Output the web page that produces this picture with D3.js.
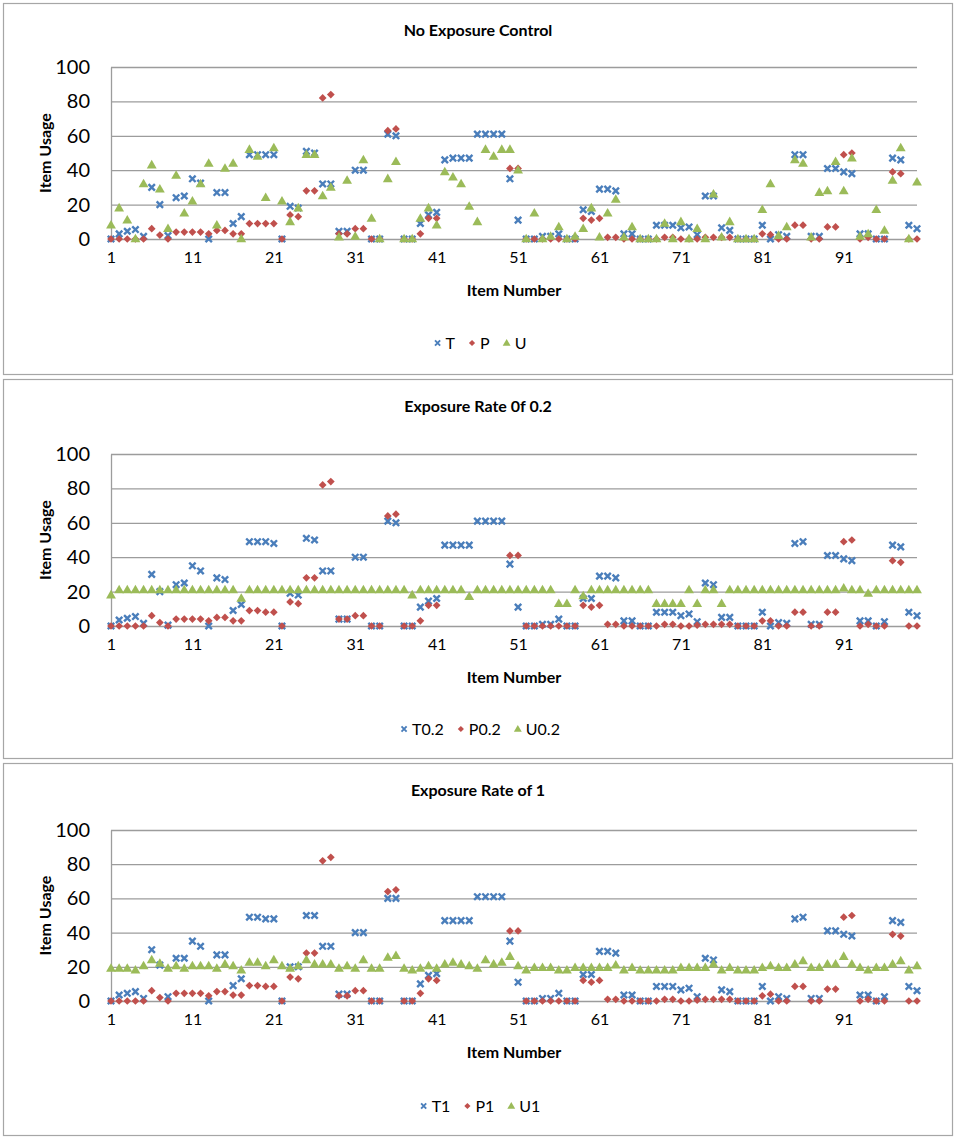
<!DOCTYPE html>
<html>
<head>
<meta charset="utf-8">
<script src="https://cdn.jsdelivr.net/npm/d3@7"></script>
<style>
  body { margin: 0; background: #fff; }
  svg { display: block; font-family: Lato, "Open Sans", sans-serif; }
</style>
</head>
<body>
<svg id="chart" width="957" height="1139"></svg>
<script>
// item numbers on the x axis
const items = d3.range(1, 101);
const xTicks = [1, 11, 21, 31, 41, 51, 61, 71, 81, 91];
const yTicks = [0, 20, 40, 60, 80, 100];

const titles = ['No Exposure Control', 'Exposure Rate 0f 0.2', 'Exposure Rate of 1'];
const seriesNames = [
  ['T', 'P', 'U'],
  ['T0.2', 'P0.2', 'U0.2'],
  ['T1', 'P1', 'U1'],
];

// --- No exposure control
const tNone = [0, 3, 4.5, 5.5, 1.5, 30, 20, 2, 24, 25,
  35, 32.5, 0, 27, 27, 9, 13, 49, 49, 49,
  49, 0, 19, 18, 51, 50, 32, 32, 4.5, 4.5,
  40, 40, 0, 0, 61, 60, 0, 0, 9, 14,
  15.5, 46, 47, 47, 47, 61, 61, 61, 61, 35,
  11, 0, 0, 1.5, 1.5, 3, 0, 0, 17, 16,
  29, 29, 28, 3, 3, 0, 0, 8, 8, 8,
  6.5, 7, 2.5, 25, 25, 6.5, 5, 0, 0, 0,
  8, 0, 2.5, 1.5, 49, 49, 1.5, 1.5, 41, 41,
  39, 38, 3, 3, 0, 0, 47, 46, 8, 6];
const pNone = [0, 0, 0, 0, 0, 6, 2.3, 0, 4, 4,
  4, 4, 3, 5, 5, 3, 3, 9, 9, 9,
  9, 0, 14, 13, 28, 28, 82, 84, 3, 3,
  6, 6, 0, 0, 63, 64, 0, 0, 3, 12,
  12, null, null, null, null, null, null, null, null, 41,
  41, 0, 0, 0, 0, 0, 0, 0, 12, 11,
  12, 1, 1, 0, 0, 0, 0, 0, 1, 1,
  0, 0, 0, 1, 1, 1, 1, 0, 0, 0,
  3, 2.5, 0, 0, 8, 8, 0, 0, 7, 7,
  49, 50, 0, 1, 0, 0, 39, 38, 0, 0];
const uNone = [8, 18, 11, 0, 32, 43, 29, 6, 37, 15,
  22, 32, 44, 8, 41, 44, 0, 52, 48, 24,
  53, 22, 10, 18, 49, 49, 25, 30, 1, 34,
  1.5, 46, 12, 0, 35, 45, 0, 0, 12, 18,
  8, 39, 36, 32, 19, 10, 52, 48, 52, 52,
  40, 0, 15, 0, 1.5, 7, 0, 1.5, 6, 18,
  1, 15, 23, 1, 7, 0, 0, 0, 9, 0,
  10, 0, 6, 0, 26, 1, 10, 0, 0, 0,
  17, 32, 2, 7, 46, 44, 1, 27, 28, 45,
  28, 47, 1.5, 3, 17, 5, 34, 53, 0, 33];

// --- Exposure rate 0.2
const tRate02 = [0, 3.5, 4.5, 5.5, 1.5, 30, 20, 0.5, 24, 25,
  35, 32, 0, 28, 27, 9, 12.5, 49, 49, 49,
  48, 0, 19, 18, 51, 50, 32, 32, 4, 4,
  40, 40, 0, 0, 61, 60, 0, 0, 11, 14.5,
  16, 47, 47, 47, 47, 61, 61, 61, 61, 36,
  11, 0, 0, 1, 1, 4, 0, 0, 16, 16,
  29, 29, 28, 3, 3, 0, 0, 8, 8, 8,
  6, 7, 2.5, 25, 24, 5, 5, 0, 0, 0,
  8, 0, 2, 1.5, 48, 49, 1, 1, 41, 41,
  39, 38, 3, 3, 0, 2.5, 47, 46, 8, 6];
const pRate02 = [0, 0, 0, 0, 0, 6, 2, 0, 4, 4,
  4, 4, 3, 5, 5, 3, 3, 9, 9, 8,
  8, 0, 14, 13, 28, 28, 82, 84, 4, 4,
  6, 6, 0, 0, 64, 65, 0, 0, 3, 12,
  12, null, null, null, null, null, null, null, null, 41,
  41, 0, 0, 0, 0, 0, 0, 0, 12, 11,
  12, 1, 1, 0, 0, 0, 0, 0, 1, 1,
  0, 0, 0.5, 1, 1, 1, 1, 0, 0, 0,
  3, 3, 0, 0, 8, 8, 0, 0, 8, 8,
  49, 50, 0, 1, 0, 0, 38, 37, 0, 0];
const uRate02 = [18, 21, 21, 21, 21, 21, 21, 21, 21, 21,
  21, 21, 21, 21, 21, 21, 16, 21, 21, 21,
  21, 21, 21, 21, 21, 21, 21, 21, 21, 21,
  21, 21, 21, 21, 21, 21, 21, 18, 21, 21,
  21, 21, 21, 21, 17, 21, 21, 21, 21, 21,
  21, 21, 21, 21, 21, 13, 13, 21, 17.5, 21,
  21, 21, 21, 21, 21, 21, 21, 13, 13, 13,
  13, 21, 13, 21, 21, 13, 21, 21, 21, 21,
  21, 21, 21, 21, 21, 21, 21, 21, 21, 21,
  22, 21, 21, 19, 21, 21, 21, 21, 21, 21];

// --- Exposure rate 1
const tRate1 = [0, 3.5, 4.5, 5.5, 1.5, 30, 21, 2.5, 25, 25,
  35, 32, 0, 27, 27, 9, 13, 49, 49, 48,
  48, 0, 20, 20, 50, 50, 32, 32, 4, 4,
  40, 40, 0, 0, 60, 60, 0, 0, 10, 15,
  16, 47, 47, 47, 47, 61, 61, 61, 61, 35,
  11, 0, 0, 1.5, 1.5, 4.5, 0, 0, 15.5, 15.5,
  29, 29, 28, 3.5, 3.5, 0, 0, 8.5, 8.5, 8.5,
  6.5, 7.5, 2.5, 25, 24, 6.5, 5.5, 0, 0, 0,
  8.5, 0, 2.5, 1.5, 48, 49, 1.5, 1.5, 41, 41,
  39, 38, 3.5, 3.5, 0, 2.5, 47, 46, 8.5, 6];
const pRate1 = [0, 0, 0, 0, 0, 6, 2, 0, 4.5, 4.5,
  4.5, 4.5, 3, 5.5, 5.5, 3.5, 3.5, 9, 9, 8.5,
  8.5, 0, 14, 13, 28, 28, 82, 84, 3, 3,
  6, 6, 0, 0, 64, 65, 0, 0, 4.5, 13,
  12, null, null, null, null, null, null, null, null, 41,
  41, 0, 0, 0, 0, 0, 0, 0, 12, 11,
  12, 1, 1, 0, 0, 0, 0, 0, 1, 1,
  0, 0, 0.5, 1, 1, 1, 1, 0, 0, 0,
  3, 4, 0, 0, 8.5, 8.5, 0, 0, 7, 7,
  49, 50, 0, 1, 0, 0, 39, 38, 0, 0];
const uRate1 = [19, 19, 19, 18, 20.5, 24, 22, 19, 20.5, 19,
  20.5, 20.5, 20.5, 19, 21.5, 20.5, 18, 22.5, 22.5, 20.5,
  24, 20.5, 19, 20.5, 24, 21.5, 21.5, 21.5, 19, 20.5,
  19, 24, 19, 19, 25.5, 26.5, 19, 18, 19, 20.5,
  19, 21.5, 22.5, 21.5, 20.5, 19, 24, 21.5, 22.5, 26,
  20.5, 18, 19.5, 19.5, 19.5, 18, 18, 19.5, 19.5, 19.5,
  19.5, 19.5, 21, 18, 19.5, 18, 18, 18, 18, 18,
  19.5, 19.5, 19.5, 19.5, 21.5, 18, 19.5, 18, 18, 18,
  19.5, 20.5, 19.5, 19.5, 21.5, 23.5, 19.5, 19.5, 21.5, 21.5,
  26, 21.5, 19.5, 18, 19.5, 19.5, 21.5, 23.5, 18, 20.5];

const panelSeries = [
  [tNone, pNone, uNone],
  [tRate02, pRate02, uRate02],
  [tRate1, pRate1, uRate1],
];

// layout of the three stacked chart boxes
const layout = [
  { top: 3, bottom: 374, plotTop: 67, plotBottom: 239, legendY: 343 },
  { top: 379, bottom: 758, plotTop: 454, plotBottom: 626, legendY: 729 },
  { top: 763, bottom: 1135, plotTop: 830, plotBottom: 1001, legendY: 1106 },
];

const colors = ['#4A7EBB', '#C0504D', '#9BBB59'];
const gridColor = '#9c9c9c';
const left = 111;
const right = 917;

const svg = d3.select('#chart');
const x = d3.scaleLinear().domain([1, 100]).range([left, right]);

function drawMarker(sel, kind, color, s = 1) {
  if (kind === 0) {
    const r = 3.2 * s;
    sel.append('path')
      .attr('d', `M${-r},${-r}L${r},${r}M${-r},${r}L${r},${-r}`)
      .attr('stroke', color)
      .attr('stroke-width', 2.4 * s)
      .attr('fill', 'none');
  } else if (kind === 1) {
    sel.append('path')
      .attr('d', d3.symbol(d3.symbolSquare, 30 * s * s)())
      .attr('transform', 'rotate(45)')
      .attr('fill', color);
  } else {
    sel.append('path')
      .attr('d', d3.symbol(d3.symbolTriangle, 42 * s * s)())
      .attr('transform', 'translate(0,0.5)')
      .attr('fill', color);
  }
}

layout.forEach((L, pi) => {
  const g = svg.append('g');
  const y = d3.scaleLinear().domain([0, 100]).range([L.plotBottom, L.plotTop]);

  g.append('rect')
    .attr('x', 3.5).attr('y', L.top + 0.5)
    .attr('width', 949).attr('height', L.bottom - L.top)
    .attr('fill', '#fff')
    .attr('stroke', '#a6a6a6')
    .attr('stroke-width', 1.2);

  g.append('text')
    .attr('x', 478).attr('y', L.top + 27).attr('dy', '0.35em')
    .attr('text-anchor', 'middle')
    .attr('font-size', 16).attr('font-weight', 700)
    .text(titles[pi]);

  const yAxis = g.append('g')
    .attr('transform', `translate(${left},0)`)
    .call(d3.axisLeft(y).tickValues(yTicks).tickSize(-(right - left)).tickSizeOuter(0).tickPadding(21))
    .attr('font-family', null).attr('font-size', 20);
  yAxis.selectAll('.tick line').attr('stroke', gridColor).attr('stroke-width', 1.3);
  yAxis.select('.domain').attr('stroke', gridColor).attr('stroke-width', 1.3);
  yAxis.selectAll('text').attr('fill', '#000');

  const xAxis = g.append('g')
    .attr('transform', `translate(0,${L.plotBottom})`)
    .call(d3.axisBottom(x).tickValues(xTicks).tickSize(0).tickPadding(13))
    .attr('font-family', null).attr('font-size', 16);
  xAxis.select('.domain').remove();
  xAxis.selectAll('text').attr('fill', '#000');

  g.append('text')
    .attr('x', (left + right) / 2).attr('y', L.plotBottom + 51).attr('dy', '0.35em')
    .attr('text-anchor', 'middle')
    .attr('font-size', 16).attr('font-weight', 700)
    .text('Item Number');

  g.append('text')
    .attr('transform', `translate(45,${(L.plotTop + L.plotBottom) / 2}) rotate(-90)`)
    .attr('dy', '0.35em')
    .attr('text-anchor', 'middle')
    .attr('font-size', 16).attr('font-weight', 700)
    .text('Item Usage');

  // series drawn in order T, P, U so U sits on top
  panelSeries[pi].forEach((vals, si) => {
    const pts = items
      .map((it, i) => ({ it, v: vals[i] }))
      .filter((d) => d.v != null);
    g.append('g')
      .selectAll('g')
      .data(pts)
      .join('g')
      .attr('transform', (d) => `translate(${x(d.it)},${y(d.v)})`)
      .each(function () { drawMarker(d3.select(this), si, colors[si]); });
  });

  // legend
  const lg = g.append('g');
  let cx = 0;
  seriesNames[pi].forEach((name, si) => {
    const item = lg.append('g').attr('transform', `translate(${cx},0)`);
    drawMarker(item, si, colors[si], 0.8);
    const t = item.append('text')
      .attr('x', 8).attr('dy', '0.35em')
      .attr('font-size', 16)
      .text(name);
    cx += 8 + t.node().getComputedTextLength() + 17;
  });
  const w = cx - 17;
  lg.attr('transform', `translate(${482 - w / 2},${L.legendY})`);
});
</script>
</body>
</html>
